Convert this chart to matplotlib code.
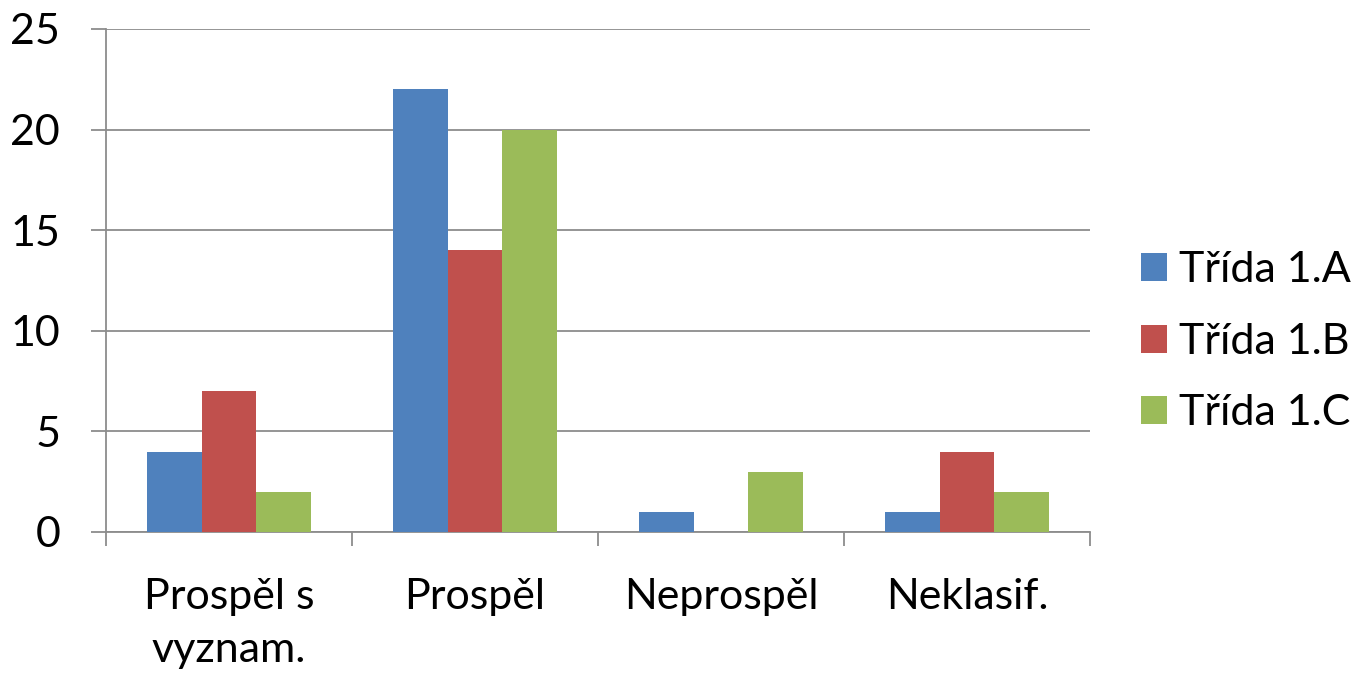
import matplotlib
matplotlib.use("Agg")
import matplotlib.pyplot as plt
import numpy as np

plt.rcParams['font.family'] = ['Lato', 'DejaVu Sans']

categories = ["Prospěl s\nvyznam.", "Prospěl", "Neprospěl", "Neklasif."]
series_names = ["Třída 1.A", "Třída 1.B", "Třída 1.C"]
trida_a = [4, 22, 1, 1]
trida_b = [7, 14, 0, 4]
trida_c = [2, 20, 3, 2]
y_ticks = [0, 5, 10, 15, 20, 25]

colors = ["#4F81BD", "#C0504D", "#9BBB59"]
grid_color = "#8C8C8C"
fs = 31

fig = plt.figure(figsize=(13.55, 6.74), dpi=100)
ax = fig.add_axes([0.0782, 0.2107, 0.7262, 0.7463])

x = np.arange(len(categories))
width = 0.2215
for i, (vals, name) in enumerate(zip([trida_a, trida_b, trida_c], series_names)):
    ax.bar(x + (i - 1) * width, vals, width, color=colors[i], label=name,
           linewidth=0, zorder=3)

ax.set_xlim(-0.5, len(categories) - 0.5)
ax.set_ylim(0, 25)
ax.set_yticks(y_ticks)
ax.set_yticklabels([str(v) for v in y_ticks], fontsize=fs)
ax.yaxis.grid(True, color=grid_color, linewidth=1.3, zorder=0)
ax.tick_params(axis='y', length=11, width=1.3, color=grid_color, pad=22)

# category labels centred, ticks at category boundaries
ax.set_xticks(x)
ax.set_xticklabels(categories, fontsize=fs, linespacing=1.5)
ax.tick_params(axis='x', length=0, pad=33)
ax.set_xticks(np.arange(len(categories) + 1) - 0.5, minor=True)
ax.tick_params(axis='x', which='minor', length=10, width=1.3, color=grid_color)

for s in ['top', 'right']:
    ax.spines[s].set_visible(False)
for s in ['left', 'bottom']:
    ax.spines[s].set_color(grid_color)
    ax.spines[s].set_linewidth(1.3)

ax.legend(loc='center left', bbox_to_anchor=(1.012, 0.378), frameon=False,
          fontsize=fs, handlelength=0.62, handleheight=0.62,
          handletextpad=0.28, labelspacing=0.78)

fig.savefig("out.png", dpi=100)
